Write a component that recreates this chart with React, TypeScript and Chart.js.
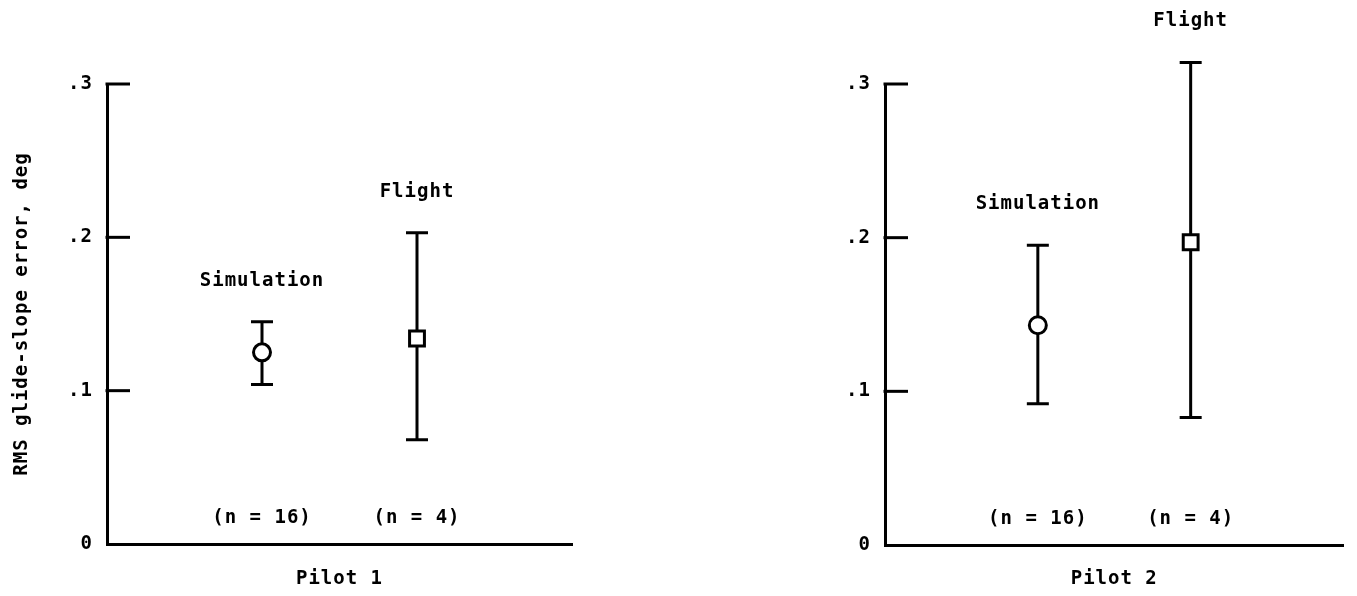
import React, { useEffect, useRef } from 'react';
import { Chart, registerables } from 'chart.js';

Chart.register(...registerables);

// ---- data ----
const categories = ['Simulation', 'Flight'];
const categoryX = [1, 2];
const sampleLabels = ['(n = 16)', '(n = 4)'];
const pilotLabels = ['Pilot 1', 'Pilot 2'];
const pilot1Mean = [0.125, 0.134];
const pilot1Low = [0.104, 0.068];
const pilot1High = [0.145, 0.203];
const pilot2Mean = [0.143, 0.197];
const pilot2Low = [0.092, 0.083];
const pilot2High = [0.195, 0.314];
const yTickValues = [0, 0.1, 0.2, 0.3];
const yTickLabels = ['0', '.1', '.2', '.3'];
const yAxisTitle = 'RMS glide-slope error, deg';
const markerStyles = ['circle', 'rect'];

const FONT_FAMILY = '"DejaVu Sans Mono", monospace';
const FONT_SIZE = 19;
const FONT_WEIGHT = 'bold';
const LETTER_SPACING = '1px';
const INK = '#000';

function makeOverlay(lows: number[], highs: number[]) {
  return {
    id: 'overlay',
    beforeDraw(chart: any) {
      chart.ctx.letterSpacing = LETTER_SPACING;
    },
    beforeDatasetsDraw(chart: any) {
      const ctx = chart.ctx;
      const xs = chart.scales.x;
      const ys = chart.scales.y;
      ctx.save();
      ctx.strokeStyle = INK;
      ctx.lineWidth = 3;
      ctx.lineCap = 'butt';
      const left = chart.chartArea.left;
      yTickValues.forEach((v) => {
        if (v === 0) return;
        const py = ys.getPixelForValue(v);
        ctx.beginPath();
        ctx.moveTo(left - 1.5, py);
        ctx.lineTo(left + 23, py);
        ctx.stroke();
      });
      categoryX.forEach((cx, i) => {
        const px = xs.getPixelForValue(cx);
        const pl = ys.getPixelForValue(lows[i]);
        const ph = ys.getPixelForValue(highs[i]);
        ctx.beginPath();
        ctx.moveTo(px, pl);
        ctx.lineTo(px, ph);
        ctx.moveTo(px - 11, pl);
        ctx.lineTo(px + 11, pl);
        ctx.moveTo(px - 11, ph);
        ctx.lineTo(px + 11, ph);
        ctx.stroke();
      });
      ctx.restore();
    },
    afterDatasetsDraw(chart: any) {
      const ctx = chart.ctx;
      const xs = chart.scales.x;
      const ys = chart.scales.y;
      ctx.save();
      ctx.letterSpacing = LETTER_SPACING;
      ctx.fillStyle = INK;
      ctx.font = `${FONT_WEIGHT} ${FONT_SIZE}px ${FONT_FAMILY}`;
      ctx.textAlign = 'center';
      ctx.textBaseline = 'middle';
      categoryX.forEach((cx, i) => {
        const px = xs.getPixelForValue(cx);
        ctx.fillText(categories[i], px, ys.getPixelForValue(highs[i]) - 41);
        ctx.fillText(sampleLabels[i], px, ys.getPixelForValue(0) - 26);
      });
      ctx.restore();
    },
  };
}

type PanelProps = {
  means: number[];
  lows: number[];
  highs: number[];
  pilot: string;
  showTitle: boolean;
  axisWidth: number;
  padRight: number;
  axisHeight: number;
  width: number;
  height: number;
  left: number;
};

function PanelChart(props: PanelProps) {
  const ref = useRef<HTMLCanvasElement | null>(null);
  useEffect(() => {
    if (!ref.current) return;
    const font = { family: FONT_FAMILY, size: FONT_SIZE, weight: FONT_WEIGHT };
    const chart = new Chart(ref.current, {
      type: 'scatter',
      data: {
        datasets: [
          {
            data: categoryX.map((x, i) => ({ x, y: props.means[i] })),
            pointStyle: markerStyles as any,
            pointRadius: [8.5, 10.5] as any,
            pointHoverRadius: [8.5, 10.5] as any,
            pointBackgroundColor: '#fff',
            pointBorderColor: INK,
            pointBorderWidth: 3,
            pointHoverBorderWidth: 3,
            clip: false as any,
          },
        ],
      },
      options: {
        animation: false,
        responsive: false,
        maintainAspectRatio: false,
        devicePixelRatio: 1,
        events: [],
        layout: { padding: { left: 0, top: 84, right: props.padRight, bottom: 0 } },
        plugins: { legend: { display: false }, tooltip: { enabled: false } },
        scales: {
          x: {
            type: 'linear',
            min: 0,
            max: 3,
            afterFit: (s: any) => {
              s.height = props.axisHeight;
            },
            ticks: { display: false },
            grid: { display: false, drawTicks: false },
            border: { display: true, color: INK, width: 3 },
            title: {
              display: true,
              text: props.pilot,
              font,
              color: INK,
              padding: { top: 0, bottom: 6 },
            },
          },
          y: {
            type: 'linear',
            min: 0,
            max: 0.3,
            afterBuildTicks: (s: any) => {
              s.ticks = yTickValues.map((v) => ({ value: v }));
            },
            afterFit: (s: any) => {
              s.width = props.axisWidth;
            },
            ticks: {
              font,
              color: INK,
              padding: 14,
              callback: (_v: any, i: number) => yTickLabels[i],
            },
            grid: { display: false, drawTicks: false },
            border: { display: true, color: INK, width: 3 },
            title: {
              display: props.showTitle,
              text: yAxisTitle,
              font,
              color: INK,
              padding: { top: 11, bottom: 0 },
            },
          },
        },
      } as any,
      plugins: [makeOverlay(props.lows, props.highs) as any],
    });
    return () => chart.destroy();
  }, []);
  return (
    <canvas
      ref={ref}
      width={props.width}
      height={props.height}
      style={{
        position: 'absolute',
        left: props.left,
        top: 0,
        width: props.width,
        height: props.height,
        display: 'block',
      }}
    />
  );
}

export default function App() {
  return (
    <div
      style={{
        position: 'fixed',
        left: 0,
        top: 0,
        width: 1357,
        height: 596,
        background: '#fff',
        overflow: 'hidden',
      }}
    >
      <PanelChart
        means={pilot1Mean}
        lows={pilot1Low}
        highs={pilot1High}
        pilot={pilotLabels[0]}
        showTitle={true}
        axisWidth={107}
        padRight={108}
        axisHeight={52}
        width={680}
        height={596}
        left={0}
      />
      <PanelChart
        means={pilot2Mean}
        lows={pilot2Low}
        highs={pilot2High}
        pilot={pilotLabels[1]}
        showTitle={false}
        axisWidth={205}
        padRight={5}
        axisHeight={51}
        width={677}
        height={596}
        left={680}
      />
    </div>
  );
}
